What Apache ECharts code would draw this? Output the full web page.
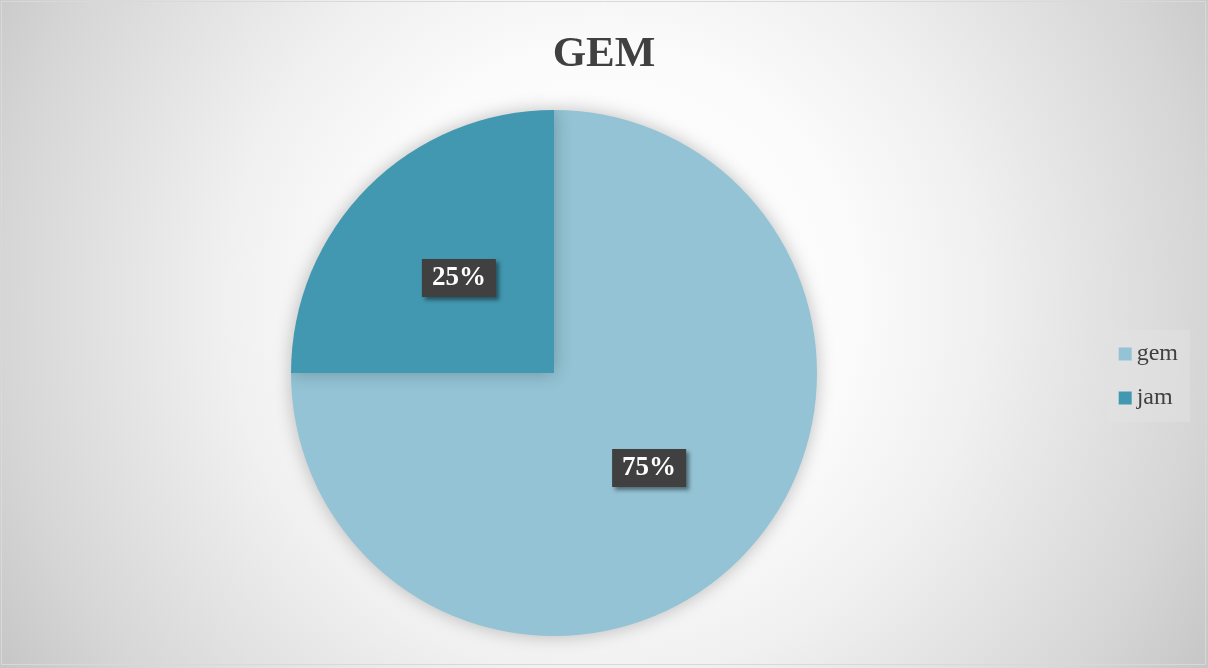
<!DOCTYPE html>
<html>
<head>
<meta charset="utf-8">
<script src="https://cdn.jsdelivr.net/npm/echarts@6/dist/echarts.min.js"></script>
<style>
  html, body { margin: 0; padding: 0; }
  #main {
    width: 1208px;
    height: 668px;
    background: radial-gradient(circle at 50% 45%, #ffffff 0px, #fbfbfb 250px, #f0f0f0 380px, #d6d6d6 600px, #c4c4c4 720px);
  }
</style>
</head>
<body>
<div id="main"></div>
<script>
// data
var categories = ['gem', 'jam'];
var values = [75, 25];
var colors = ['#93c3d4', '#4298b0'];

var myChart = echarts.init(document.getElementById('main'));

var serif = '"Liberation Serif", "DejaVu Serif", serif';

myChart.setOption({
  animation: false,
  title: {
    text: 'GEM',
    left: 'center',
    top: 28,
    textStyle: {
      fontFamily: serif,
      fontWeight: 'bold',
      fontSize: 43,
      color: '#404040'
    }
  },
  legend: {
    orient: 'vertical',
    right: 18,
    top: 330,
    data: categories,
    itemWidth: 13,
    itemHeight: 13,
    itemGap: 20,
    icon: 'rect',
    padding: [12, 12, 12, 12],
    backgroundColor: 'rgba(225,225,225,0.55)',
    textStyle: {
      fontFamily: serif,
      fontSize: 24,
      color: '#404040'
    }
  },
  graphic: [
    {
      type: 'rect',
      shape: { x: 1.5, y: 1.5, width: 1204, height: 663 },
      style: { fill: 'none', stroke: '#d9d9d9', lineWidth: 1 },
      silent: true
    }
  ],
  series: [
    {
      type: 'pie',
      center: [554, 373],
      radius: 263,
      startAngle: 90,
      clockwise: true,
      avoidLabelOverlap: false,
      itemStyle: {
        borderWidth: 0,
        shadowBlur: 18,
        shadowColor: 'rgba(0,0,0,0.25)'
      },
      label: {
        position: 'inner',
        formatter: '{d}%',
        fontFamily: serif,
        fontWeight: 'bold',
        fontSize: 27,
        color: '#ffffff',
        backgroundColor: '#404040',
        padding: [6, 10, 5, 10],
        shadowColor: 'rgba(0,0,0,0.45)',
        shadowBlur: 4,
        shadowOffsetX: 3,
        shadowOffsetY: 3
      },
      labelLine: { show: false },
      data: categories.map(function (c, i) {
        return { name: c, value: values[i], itemStyle: { color: colors[i] } };
      })
    }
  ]
});
window.onresize = myChart.resize;
</script>
</body>
</html>
